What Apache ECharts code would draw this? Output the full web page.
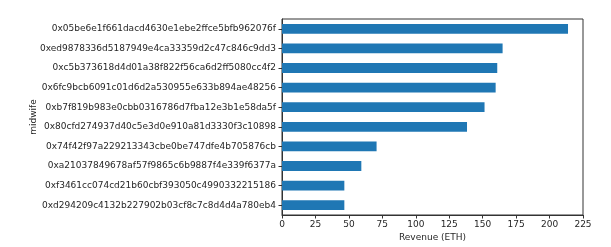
<!DOCTYPE html>
<html>
<head>
<meta charset="utf-8">
<script src="https://cdn.jsdelivr.net/npm/echarts@6/dist/echarts.min.js"></script>
<style>
  html, body { margin: 0; padding: 0; background: #fff; }
  #chart { width: 611px; height: 247px; }
</style>
</head>
<body>
<div id="chart"></div>
<script>
// Revenue per midwife address, largest first
const midwives = [
  '0x05be6e1f661dacd4630e1ebe2ffce5bfb962076f',
  '0xed9878336d5187949e4ca33359d2c47c846c9dd3',
  '0xc5b373618d4d01a38f822f56ca6d2ff5080cc4f2',
  '0x6fc9bcb6091c01d6d2a530955e633b894ae48256',
  '0xb7f819b983e0cbb0316786d7fba12e3b1e58da5f',
  '0x80cfd274937d40c5e3d0e910a81d3330f3c10898',
  '0x74f42f97a229213343cbe0be747dfe4b705876cb',
  '0xa21037849678af57f9865c6b9887f4e339f6377a',
  '0xf3461cc074cd21b60cbf393050c4990332215186',
  '0xd294209c4132b227902b03cf8c7c8d4d4a780eb4'
];
const revenue = [213.8, 164.9, 160.9, 159.7, 151.4, 138.3, 70.7, 59.3, 46.6, 46.6];
const xTicks = [0, 25, 50, 75, 100, 125, 150, 175, 200, 225];

const font = 'DejaVu Sans';
const fontSize = 9;
const textColor = '#262626';
const axisColor = '#333333';

const chart = echarts.init(document.getElementById('chart'), null, { renderer: 'canvas' });
chart.setOption({
  animation: false,
  backgroundColor: '#ffffff',
  grid: {
    left: 282, right: 28, top: 19, bottom: 32,
    show: true, borderColor: axisColor, borderWidth: 1, backgroundColor: 'transparent'
  },
  xAxis: {
    type: 'value',
    min: xTicks[0],
    max: xTicks[xTicks.length - 1],
    interval: 25,
    name: 'Revenue (ETH)',
    nameLocation: 'middle',
    nameGap: 18,
    nameMoveOverlap: false,
    nameTextStyle: { fontFamily: font, fontSize: fontSize, color: textColor },
    axisLine: { show: true, lineStyle: { color: axisColor, width: 1 } },
    axisTick: { show: true, length: 3.5, lineStyle: { color: axisColor } },
    axisLabel: { fontFamily: font, fontSize: fontSize, color: textColor, margin: 5 },
    splitLine: { show: false }
  },
  yAxis: {
    type: 'category',
    data: midwives,
    inverse: true,
    name: 'midwife',
    nameLocation: 'middle',
    nameRotate: 90,
    nameGap: 244,
    nameMoveOverlap: false,
    nameTextStyle: { fontFamily: font, fontSize: fontSize, color: textColor },
    axisLine: { show: true, lineStyle: { color: axisColor, width: 1 } },
    axisTick: { show: true, length: 3.5, alignWithLabel: true, lineStyle: { color: axisColor } },
    axisLabel: { fontFamily: font, fontSize: fontSize, color: textColor, margin: 6 },
    splitLine: { show: false }
  },
  series: [{
    type: 'bar',
    data: revenue,
    barWidth: '50%',
    itemStyle: { color: '#1f77b4' }
  }]
});
</script>
</body>
</html>
